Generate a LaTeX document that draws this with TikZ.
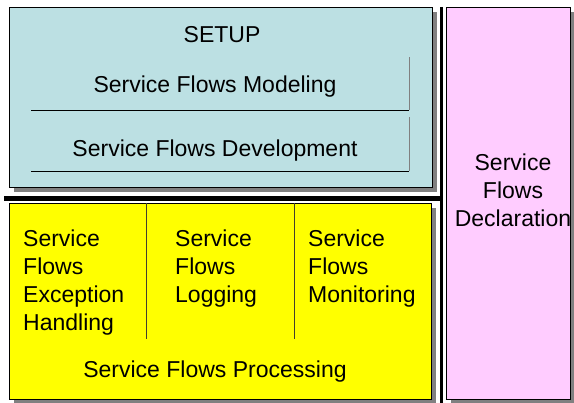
\documentclass[tikz,border=0pt]{standalone}
\usepackage{fontspec}
\setmainfont{Liberation Sans}
\usetikzlibrary{shadows}

\definecolor{setupblue}{RGB}{188,224,227}
\definecolor{procyellow}{RGB}{255,255,0}
\definecolor{declpink}{RGB}{255,204,255}

\tikzset{
  panel/.style={draw=black, line width=0.6pt, anchor=north west, inner sep=0pt,
    drop shadow={shadow xshift=5pt, shadow yshift=-5pt, fill=gray, opacity=1}},
  txt/.style={font=\fontsize{23}{28}\selectfont, inner sep=0pt},
  coltxt/.style={txt, align=left, anchor=north west},
  divider/.style={line width=0.6pt},
  bar/.style={black, line width=#1}
}

\begin{document}
\begin{tikzpicture}[x=1pt,y=-1pt]
  \useasboundingbox (0,0) rectangle (574,403);

  % the three panels
  \node[panel, fill=setupblue, minimum width=423pt, minimum height=180pt] (setup) at (9,7) {};
  \node[panel, fill=procyellow, minimum width=422pt, minimum height=196pt] (proc) at (9,203) {};
  \node[panel, fill=declpink, minimum width=124pt, minimum height=392pt] (decl) at (446,7) {};

  % setup panel
  \node[txt] (setuptitle) at (222,35) {SETUP};
  \node[txt] (modeling) at (215,87) {Service Flows Modeling};
  \node[txt] (development) at (215,151) {Service Flows Development};
  \draw[divider] (31,110) -- (409,110);
  \draw[divider, gray] (409,110) -- (409,57);
  \draw[divider] (31,171) -- (409,171);
  \draw[divider, gray] (409,171) -- (409,117);

  % processing panel
  \node[coltxt] (exception) at (23,230) {Service\\Flows\\Exception\\Handling};
  \node[coltxt] (logging) at (175,230) {Service\\Flows\\Logging};
  \node[coltxt] (monitoring) at (308,230) {Service\\Flows\\Monitoring};
  \foreach \x in {146,294}
    \draw[divider, black!70!olive] (\x,203) -- (\x,339);
  \node[txt] (processing) at (215,372) {Service Flows Processing};

  % declaration panel
  \node[txt, align=center] (declaration) at (513,190) {Service\\Flows\\Declaration};

  % separating bars
  \draw[bar=5pt] (4,198.5) -- (443,198.5);
  \draw[bar=3.5pt] (441.7,7) -- (441.7,403);
\end{tikzpicture}
\end{document}
